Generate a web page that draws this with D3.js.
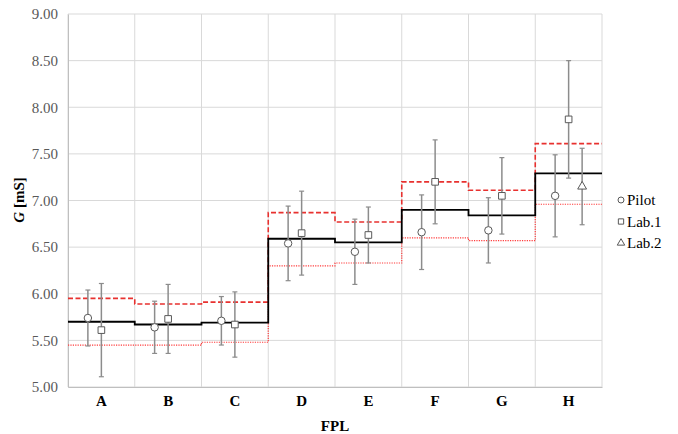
<!DOCTYPE html>
<html lang="en">
<head>
    <meta charset="UTF-8">
    <title>G by FPL</title>
    <style>
        body{
            margin:0;
            background:#fff;
        }
        svg text{
            font-family:"Liberation Serif","Times New Roman","DejaVu Serif",serif !important;
        }
    </style>
    <script src="https://cdn.jsdelivr.net/npm/d3@7"></script>
</head>
<body>
<div id='container'>
</div>
</body>
<script>
    // categories and series
    var fpl = ['A', 'B', 'C', 'D', 'E', 'F', 'G', 'H'];
    var refMean = [5.70, 5.67, 5.69, 6.59, 6.55, 6.90, 6.84, 7.29];
    var refUpper = [5.95, 5.89, 5.91, 6.87, 6.77, 7.20, 7.11, 7.61];
    var refLower = [5.45, 5.45, 5.48, 6.30, 6.33, 6.60, 6.57, 6.96];

    var pilot = [5.74, 5.64, 5.71, 6.54, 6.45, 6.66, 6.68, 7.05];
    var pilotErr = [0.30, 0.28, 0.26, 0.40, 0.35, 0.40, 0.35, 0.44];
    var lab1 = [5.61, 5.73, 5.67, 6.65, 6.63, 7.20, 7.05, 7.87];
    var lab1Err = [0.50, 0.37, 0.35, 0.45, 0.30, 0.45, 0.41, 0.63];
    var lab2Fpl = ['H'];
    var lab2 = [7.15];
    var lab2Err = [0.41];

    var yTicks = [5.00, 5.50, 6.00, 6.50, 7.00, 7.50, 8.00, 8.50, 9.00];

    var w = 678, h = 434;
    var padL = 68, padR = 602, padT = 14, padB = 387;

    var svg = d3.select('#container').append('svg').attr('width', w).attr('height', h);

    var x = d3.scaleBand().domain(fpl).range([padL, padR]);
    var y = d3.scaleLinear().domain([5, 9]).range([padB, padT]);

    // grid
    svg.append('g').selectAll('line').data(yTicks).enter().append('line')
        .attr('x1', padL).attr('x2', padR)
        .attr('y1', function (d) {return y(d)}).attr('y2', function (d) {return y(d)})
        .attr('stroke', '#d9d9d9').attr('stroke-width', 1);
    svg.append('g').selectAll('line').data(fpl.concat(['end'])).enter().append('line')
        .attr('x1', function (d) {return d === 'end' ? padR : x(d)})
        .attr('x2', function (d) {return d === 'end' ? padR : x(d)})
        .attr('y1', padT).attr('y2', padB)
        .attr('stroke', '#d9d9d9').attr('stroke-width', 1);

    // y axis
    var yAxis = d3.axisLeft(y).tickValues(yTicks).tickSize(0).tickPadding(10)
        .tickFormat(d3.format('.2f'));
    var ga = svg.append('g').attr('transform', 'translate(' + padL + ',0)').call(yAxis);
    ga.attr('font-family', null);
    ga.select('.domain').attr('stroke', '#bfbfbf');
    ga.selectAll('text').attr('font-size', '15px').attr('fill', '#595959');

    // x axis
    var xAxis = d3.axisBottom(x).tickSize(0).tickPadding(8);
    var gx = svg.append('g').attr('transform', 'translate(0,' + padB + ')').call(xAxis);
    gx.attr('font-family', null);
    gx.select('.domain').attr('stroke', '#bfbfbf');
    gx.selectAll('text').attr('font-size', '15px').attr('font-weight', 'bold').attr('fill', '#000');

    // step lines
    function steps(vals) {
        var pts = fpl.map(function (c, i) {return [x(c), y(vals[i])]});
        pts.push([padR, y(vals[vals.length - 1])]);
        return d3.line().curve(d3.curveStepAfter)(pts);
    }
    svg.append('path').attr('d', steps(refLower)).attr('fill', 'none')
        .attr('stroke', '#ff3b3b').attr('stroke-width', 1.2).attr('stroke-dasharray', '1.2,1.2');
    svg.append('path').attr('d', steps(refUpper)).attr('fill', 'none')
        .attr('stroke', '#e8312f').attr('stroke-width', 1.6).attr('stroke-dasharray', '5,2.5');
    svg.append('path').attr('d', steps(refMean)).attr('fill', 'none')
        .attr('stroke', '#000').attr('stroke-width', 1.8);

    // error bars + markers
    function series(cats, vals, errs, dx, shape) {
        var g = svg.append('g');
        cats.forEach(function (c, i) {
            var cx = x(c) + x.bandwidth() / 2 + dx;
            var y0 = y(vals[i] + errs[i]), y1 = y(vals[i] - errs[i]);
            g.append('line').attr('x1', cx).attr('x2', cx).attr('y1', y0).attr('y2', y1)
                .attr('stroke', '#8c8c8c').attr('stroke-width', 1.5);
            [y0, y1].forEach(function (yy) {
                g.append('line').attr('x1', cx - 2.5).attr('x2', cx + 2.5).attr('y1', yy).attr('y2', yy)
                    .attr('stroke', '#8c8c8c').attr('stroke-width', 1.2);
            });
            var cy = y(vals[i]);
            g.append('path').attr('d', d3.symbol().type(shape).size(shape === d3.symbolTriangle ? 34 : 44)())
                .attr('transform', 'translate(' + cx + ',' + cy + ')')
                .attr('fill', '#fff').attr('stroke', '#595959').attr('stroke-width', 1);
        });
    }
    series(fpl, pilot, pilotErr, -13.5, d3.symbolCircle);
    series(fpl, lab1, lab1Err, 0, d3.symbolSquare);
    series(lab2Fpl, lab2, lab2Err, 13.5, d3.symbolTriangle);

    // legend
    var legend = [['Pilot', d3.symbolCircle], ['Lab.1', d3.symbolSquare], ['Lab.2', d3.symbolTriangle]];
    var lg = svg.append('g').selectAll('g').data(legend).enter().append('g')
        .attr('transform', function (d, i) {return 'translate(621,' + (200 + i * 21.5) + ')'});
    lg.append('path').attr('d', function (d) {return d3.symbol().type(d[1]).size(d[1] === d3.symbolTriangle ? 24 : 28)()})
        .attr('fill', '#fff').attr('stroke', '#595959').attr('stroke-width', 1);
    lg.append('text').text(function (d) {return d[0]}).attr('x', 6).attr('y', 5)
        .attr('font-size', '15px').attr('fill', '#000');

    // axis titles
    svg.append('text').attr('x', 335).attr('y', 431).attr('text-anchor', 'middle')
        .attr('font-size', '15px').attr('font-weight', 'bold').text('FPL');
    var yt = svg.append('text').attr('transform', 'translate(24,200) rotate(-90)')
        .attr('text-anchor', 'middle').attr('font-size', '15px').attr('font-weight', 'bold');
    yt.append('tspan').attr('font-style', 'italic').text('G');
    yt.append('tspan').text(' [mS]');
</script>
</html>
